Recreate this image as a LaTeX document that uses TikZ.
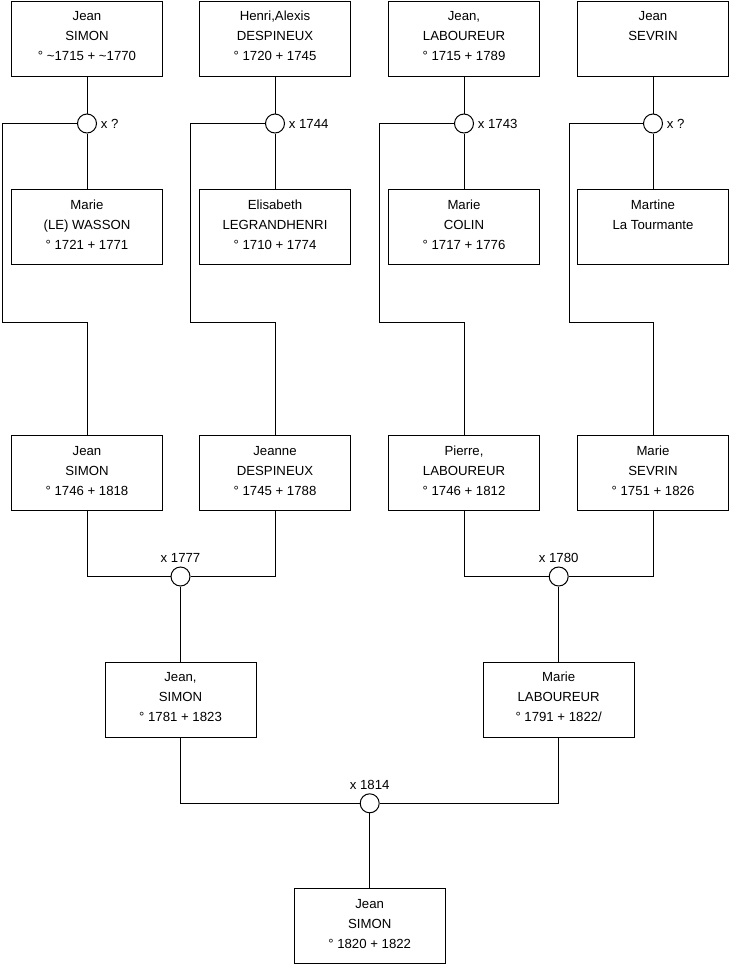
\documentclass[tikz,border=0pt]{standalone}
\usepackage{fontspec}
\setmainfont{Liberation Sans}
\newcommand{\pers}[1]{\parbox[c][75pt][t]{151pt}{\centering\rule{0pt}{19.5pt}#1}}

\begin{document}
\begin{tikzpicture}[x=1pt,y=-1pt,line width=1pt,every node/.style={font=\fontsize{13.2}{20}\selectfont}]
  \tikzstyle{Person}=[draw,inner sep=0pt]
  \tikzstyle{Union}=[draw,circle,inner sep=0pt,minimum size=19pt,fill=white,label distance=0pt]
  \useasboundingbox (0,0) rectangle (740,975);

  \node[Person] (jeanSimonA) at (87,38.5) {\pers{Jean\\SIMON\\° \textasciitilde1715 + \textasciitilde1770}};
  \node[Person] (henriDesp) at (275,38.5) {\pers{Henri,Alexis\\DESPINEUX\\° 1720 + 1745}};
  \node[Person] (jeanLab) at (464,38.5) {\pers{Jean,\\LABOUREUR\\° 1715 + 1789}};
  \node[Person] (jeanSevrin) at (653,38.5) {\pers{Jean\\SEVRIN}};

  \node[Union,label=right:{x ?}] (u1) at (87,123.5) {};
  \node[Union,label=right:{x 1744}] (u2) at (275,123.5) {};
  \node[Union,label=right:{x 1743}] (u3) at (464,123.5) {};
  \node[Union,label=right:{x ?}] (u4) at (653,123.5) {};

  \node[Person] (marieWasson) at (87,227) {\pers{Marie\\(LE) WASSON\\° 1721 + 1771}};
  \node[Person] (elisLeg) at (275,227) {\pers{Elisabeth\\LEGRANDHENRI\\° 1710 + 1774}};
  \node[Person] (marieColin) at (464,227) {\pers{Marie\\COLIN\\° 1717 + 1776}};
  \node[Person] (martineTour) at (653,227) {\pers{Martine\\La Tourmante}};

  \node[Person] (jeanSimonB) at (87,473) {\pers{Jean\\SIMON\\° 1746 + 1818}};
  \node[Person] (jeanneDesp) at (275,473) {\pers{Jeanne\\DESPINEUX\\° 1745 + 1788}};
  \node[Person] (pierreLab) at (464,473) {\pers{Pierre,\\LABOUREUR\\° 1746 + 1812}};
  \node[Person] (marieSevrin) at (653,473) {\pers{Marie\\SEVRIN\\° 1751 + 1826}};

  \node[Union,label=above:{x 1777}] (u5) at (180.5,576.5) {};
  \node[Union,label=above:{x 1780}] (u6) at (558.7,576.5) {};

  \node[Person] (jeanSimonC) at (180.5,699.5) {\pers{Jean,\\SIMON\\° 1781 + 1823}};
  \node[Person] (marieLab) at (558.7,699.5) {\pers{Marie\\LABOUREUR\\° 1791 + 1822/}};

  \node[Union,label=above:{x 1814}] (u7) at (369.7,803.3) {};

  \node[Person] (jeanSimonD) at (369.7,926) {\pers{Jean\\SIMON\\° 1820 + 1822}};

  \draw (jeanSimonA) -- (u1) -- (marieWasson);
  \draw (henriDesp) -- (u2) -- (elisLeg);
  \draw (jeanLab) -- (u3) -- (marieColin);
  \draw (jeanSevrin) -- (u4) -- (martineTour);

  \draw (u1) -- (2.5,123.5) |- (87,322) -- (jeanSimonB);
  \draw (u2) -- (190.5,123.5) |- (275,322) -- (jeanneDesp);
  \draw (u3) -- (379.5,123.5) |- (464,322) -- (pierreLab);
  \draw (u4) -- (569.5,123.5) |- (653,322) -- (marieSevrin);

  \draw (jeanSimonB) |- (u5) -| (jeanneDesp);
  \draw (pierreLab) |- (u6) -| (marieSevrin);
  \draw (u5) -- (jeanSimonC);
  \draw (u6) -- (marieLab);

  \draw (jeanSimonC) |- (u7) -| (marieLab);
  \draw (u7) -- (jeanSimonD);
\end{tikzpicture}
\end{document}
